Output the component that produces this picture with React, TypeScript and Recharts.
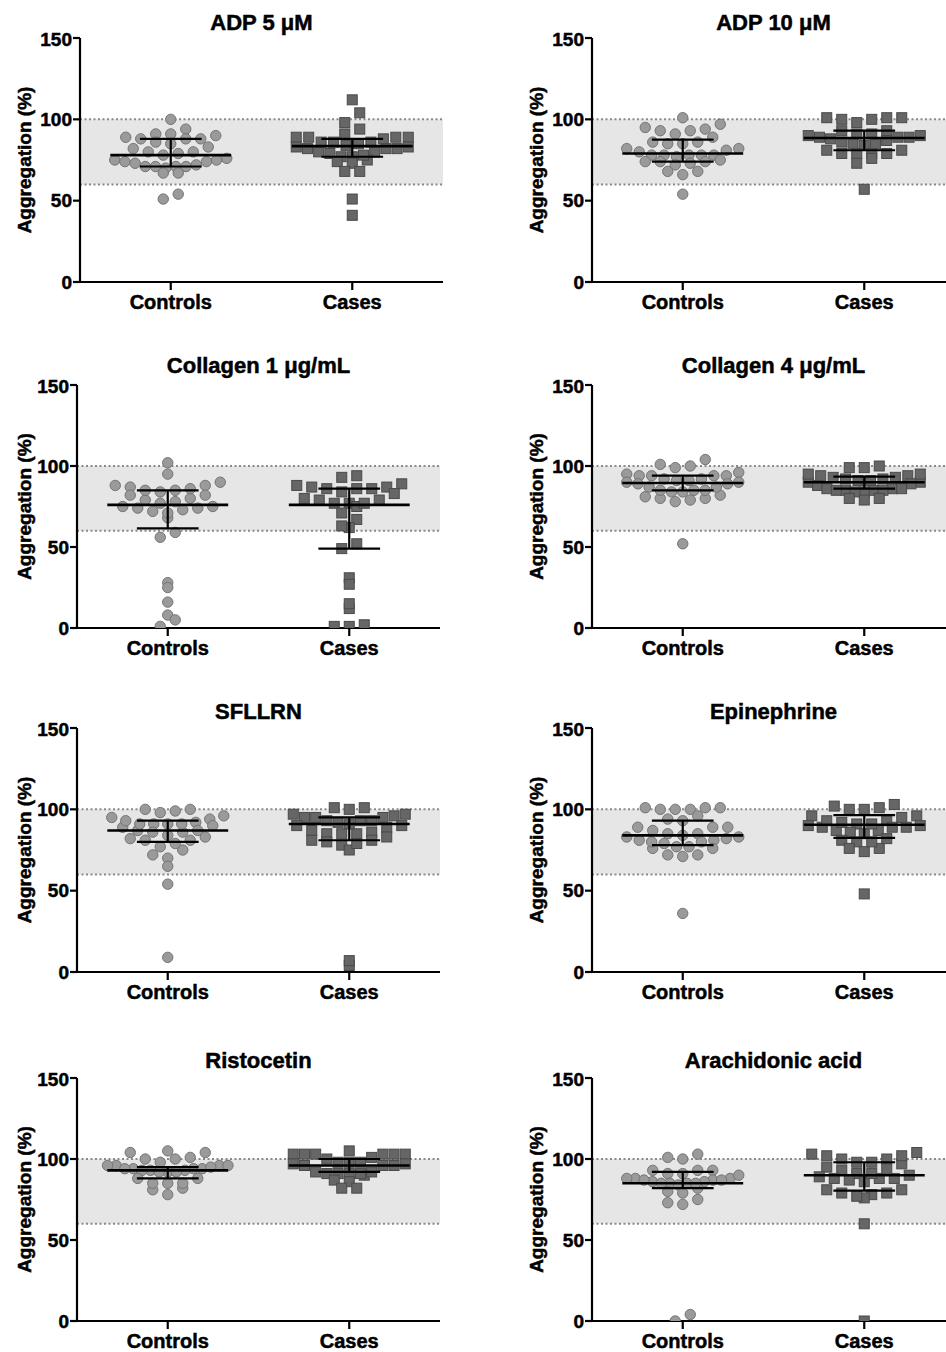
import { ReferenceArea, ReferenceLine, Scatter, ScatterChart, XAxis, YAxis } from "recharts";

const FONT = '"Liberation Sans", Arial, Helvetica, sans-serif';

const titles = [
  "ADP 5 μM",
  "ADP 10 μM",
  "Collagen 1 μg/mL",
  "Collagen 4 μg/mL",
  "SFLLRN",
  "Epinephrine",
  "Ristocetin",
  "Arachidonic acid",
];
const groups = ["Controls", "Cases"];
const yTicks = [0, 50, 100, 150];

// aggregation (%) per subject
const adp5Controls = [100, 91, 94, 85, 89, 91, 90, 86, 88, 88, 88, 82, 83, 80, 79, 80, 78, 76, 75, 74, 75, 74, 72, 71, 71, 73, 71, 71, 70, 67, 67, 51, 54];
const adp5Cases = [112, 104, 98, 94, 86, 86, 89, 89, 89, 88, 89, 91, 86, 85, 84, 82, 83, 82, 82, 83, 77, 80, 79, 80, 77, 75, 73, 78, 74, 68, 68, 51, 41];
const adp10Controls = [101, 95, 93, 91, 93, 94, 97, 89, 86, 85, 82, 80, 78, 78, 77, 78, 78, 78, 81, 82, 85, 86, 74, 74, 72, 73, 74, 75, 68, 66, 68, 54];
const adp10Cases = [101, 101, 100, 98, 100, 101, 91, 90, 89, 88, 86, 93, 93, 85, 84, 85, 87, 89, 89, 90, 91, 81, 79, 79, 76, 79, 79, 81, 73, 57];
const col1Controls = [102, 95, 90, 88, 88, 87, 85, 84, 82, 79, 78, 80, 82, 85, 86, 77, 75, 74, 72, 68, 71, 73, 74, 75, 59, 56, 28, 25, 16, 8, 5, 1];
const col1Cases = [94, 93, 89, 87, 86, 86, 86, 87, 88, 84, 83, 79, 77, 77, 75, 77, 79, 80, 71, 67, 62, 63, 52, 49, 31, 27, 12, 15, 2, 1, 1];
const col4Controls = [104, 100, 99, 101, 95, 94, 94, 96, 94, 94, 92, 91, 90, 89, 89, 90, 91, 92, 87, 85, 84, 82, 80, 79, 78, 80, 81, 84, 85, 85, 87, 52];
const col4Cases = [100, 99, 99, 94, 93, 92, 91, 94, 93, 92, 91, 90, 90, 95, 95, 89, 88, 86, 85, 84, 85, 86, 85, 84, 85, 86, 80, 79, 80];
const sfllrnControls = [100, 99, 96, 95, 98, 100, 94, 92, 91, 91, 89, 87, 86, 86, 87, 90, 91, 91, 93, 84, 81, 82, 77, 75, 79, 81, 83, 72, 70, 65, 54, 9];
const sfllrnCases = [101, 100, 101, 97, 96, 95, 95, 95, 97, 93, 92, 90, 89, 87, 85, 85, 86, 90, 91, 93, 93, 85, 81, 80, 78, 75, 79, 81, 83, 4, 7];
const epiControls = [101, 100, 100, 100, 101, 101, 93, 94, 96, 89, 87, 85, 83, 82, 81, 81, 83, 84, 85, 89, 89, 80, 79, 77, 76, 72, 71, 72, 76, 77, 80, 36];
const epiCases = [102, 100, 100, 101, 103, 96, 95, 96, 93, 91, 90, 89, 87, 86, 85, 89, 87, 89, 90, 91, 92, 93, 81, 80, 76, 74, 76, 80, 82, 48];
const ristoControls = [105, 104, 104, 100, 98, 100, 101, 96, 94, 94, 93, 92, 94, 96, 93, 96, 92, 92, 93, 94, 95, 96, 88, 85, 82, 88, 81, 85, 85, 78];
const ristoCases = [105, 101, 103, 103, 103, 103, 103, 103, 100, 98, 98, 97, 96, 96, 96, 97, 98, 91, 90, 92, 91, 91, 92, 91, 86, 87, 82, 82];
const araControls = [103, 100, 101, 93, 91, 91, 93, 93, 88, 87, 86, 85, 85, 88, 90, 84, 82, 85, 86, 85, 87, 87, 88, 79, 80, 73, 72, 75, 0, 4];
const araCases = [104, 102, 100, 98, 97, 98, 100, 102, 103, 95, 93, 91, 90, 88, 88, 86, 87, 88, 89, 91, 94, 81, 79, 78, 76, 77, 79, 81, 60, 0];

// median and interquartile range, as drawn
const controlsMedian = [78, 79, 76, 89.5, 87, 84, 93, 85];
const controlsQ1 = [71, 74, 61.5, 85, 80, 78, 88, 82];
const controlsQ3 = [88, 87.5, 85, 94, 93, 93, 95, 92];
const casesMedian = [83.5, 88.5, 76, 90, 91, 90.5, 96, 90];
const casesQ1 = [77, 81, 49, 86, 81, 82.5, 92, 80.5];
const casesQ3 = [88, 93, 86, 93.5, 95, 96.5, 100, 98];

const controlsByPanel = [adp5Controls, adp10Controls, col1Controls, col4Controls, sfllrnControls, epiControls, ristoControls, araControls];
const casesByPanel = [adp5Cases, adp10Cases, col1Cases, col4Cases, sfllrnCases, epiCases, ristoCases, araCases];

// layout
const PLOT_W = 363;
const PX_PER_X = PLOT_W / 2;
const rowTop = [38, 385, 728, 1078];
const rowZero = [282, 628, 972, 1321];
const rowTitle = [23, 366, 712, 1061];
const leftAxisX = [80, 77, 77, 77];
const RIGHT_AXIS_X = 592;

// prism-like column scatter: bin by value, spread each bin sideways,
// lowest values in the middle of the row
function columnScatter(values: number[], center: number) {
  const bins = new Map<number, number[]>();
  values.forEach((v, i) => {
    const b = Math.floor(v / 7);
    if (!bins.has(b)) bins.set(b, []);
    bins.get(b)!.push(i);
  });
  const out = values.map((v) => ({ x: center, y: v }));
  bins.forEach((idxs) => {
    const n = idxs.length;
    const sorted = [...idxs].sort((a, b) => values[a] - values[b]);
    const step = Math.max(8.6, Math.min(15, 112 / Math.max(n - 1, 1)));
    const slots = Array.from({ length: n }, (_, k) => (k - (n - 1) / 2) * step);
    slots.sort((a, b) => Math.abs(a) - Math.abs(b) || a - b);
    // alternate sides for equal distances so the smile stays symmetric
    sorted.forEach((i, k) => {
      out[i] = { x: center + slots[k] / PX_PER_X, y: values[i] };
    });
  });
  return out;
}

const Circle = (p: any) => (
  <circle cx={p.cx} cy={p.cy} r={5.2} fill="#9a9a9a" stroke="#747474" strokeWidth={1} />
);
const Square = (p: any) => (
  <rect x={p.cx - 5} y={p.cy - 5} width={10} height={10} fill="#666666" stroke="#4a4a4a" strokeWidth={1} />
);

function statLines(center: number, med: number, q1: number, q3: number, key: string) {
  const line = { stroke: "#000", ifOverflow: "visible" as const, zIndex: 900 };
  return [
    <ReferenceLine key={key + "m"} {...line} strokeWidth={2.6} segment={[{ x: center - 0.333, y: med }, { x: center + 0.333, y: med }]} />,
    <ReferenceLine key={key + "v"} {...line} strokeWidth={2.2} segment={[{ x: center, y: q1 }, { x: center, y: q3 }]} />,
    <ReferenceLine key={key + "lo"} {...line} strokeWidth={2.2} segment={[{ x: center - 0.17, y: q1 }, { x: center + 0.17, y: q1 }]} />,
    <ReferenceLine key={key + "hi"} {...line} strokeWidth={2.2} segment={[{ x: center - 0.17, y: q3 }, { x: center + 0.17, y: q3 }]} />,
  ];
}

function Panel({ idx }: { idx: number }) {
  const row = Math.floor(idx / 2);
  const col = idx % 2;
  const panelLeft = col === 0 ? 0 : 473;
  const axisX = col === 0 ? leftAxisX[row] : RIGHT_AXIS_X;
  const yAxisW = axisX - panelLeft;
  const top = rowTop[row] - 10;
  const plotH = rowZero[row] - rowTop[row];
  const height = plotH + 10 + 45;
  const width = yAxisW + PLOT_W;
  const labelCenter = col === 0 ? 24 : 536 - 473;

  const controls = columnScatter(controlsByPanel[idx], 1);
  const cases = columnScatter(casesByPanel[idx], 2);
  const tickStyle = {
    fill: "#000",
    stroke: "#000",
    strokeWidth: 0.5,
    fontSize: 19,
    fontWeight: "bold",
    fontFamily: FONT,
  };

  return (
    <>
      <div
        style={{
          position: "absolute",
          left: axisX,
          width: PLOT_W,
          top: rowTitle[row] - 12,
          textAlign: "center",
          fontSize: 22,
          lineHeight: "24px",
          fontWeight: "bold",
          fontFamily: FONT,
          whiteSpace: "nowrap",
          WebkitTextStroke: "0.5px #000",
        }}
      >
        {titles[idx]}
      </div>
      <div style={{ position: "absolute", left: panelLeft, top }}>
        <ScatterChart width={width} height={height} margin={{ top: 10, right: 0, bottom: 0, left: 0 }}>
          <XAxis
            type="number"
            dataKey="x"
            domain={[0.5, 2.5]}
            ticks={[1, 2]}
            tickFormatter={(v: number) => groups[v - 1]}
            height={45}
            axisLine={{ stroke: "#000", strokeWidth: 2.2 }}
            tickLine={{ stroke: "#000", strokeWidth: 2.2 }}
            tickSize={8}
            tickMargin={5}
            tick={{ ...tickStyle, fontSize: 20 }}
            allowDataOverflow
          />
          <YAxis
            type="number"
            dataKey="y"
            domain={[0, 150]}
            ticks={yTicks}
            width={yAxisW}
            axisLine={{ stroke: "#000", strokeWidth: 2.2 }}
            tickLine={{ stroke: "#000", strokeWidth: 2.2 }}
            tickSize={7}
            tickMargin={1}
            tick={tickStyle}
            allowDataOverflow
            label={{
              value: "Aggregation (%)",
              angle: -90,
              position: "center",
              dx: labelCenter - yAxisW / 2,
              fill: "#000",
              stroke: "#000",
              strokeWidth: 0.5,
              fontSize: 19,
              fontWeight: "bold",
              fontFamily: FONT,
            }}
          />
          <ReferenceArea y1={60} y2={100} fill="#e6e6e6" fillOpacity={1} stroke="none" />
          <ReferenceLine y={100} stroke="#8a8a8a" strokeWidth={2} strokeDasharray="2 2.5" />
          <ReferenceLine y={60} stroke="#8a8a8a" strokeWidth={2} strokeDasharray="2 2.5" />
          <Scatter data={controls} shape={Circle} isAnimationActive={false} />
          <Scatter data={cases} shape={Square} isAnimationActive={false} />
          {statLines(1, controlsMedian[idx], controlsQ1[idx], controlsQ3[idx], "c")}
          {statLines(2, casesMedian[idx], casesQ1[idx], casesQ3[idx], "k")}
        </ScatterChart>
      </div>
    </>
  );
}

export default function App() {
  return (
    <div
      style={{
        position: "absolute",
        left: 0,
        top: 0,
        width: 946,
        height: 1352,
        overflow: "hidden",
        background: "#fff",
      }}
    >
      {titles.map((_, i) => (
        <Panel key={i} idx={i} />
      ))}
    </div>
  );
}
